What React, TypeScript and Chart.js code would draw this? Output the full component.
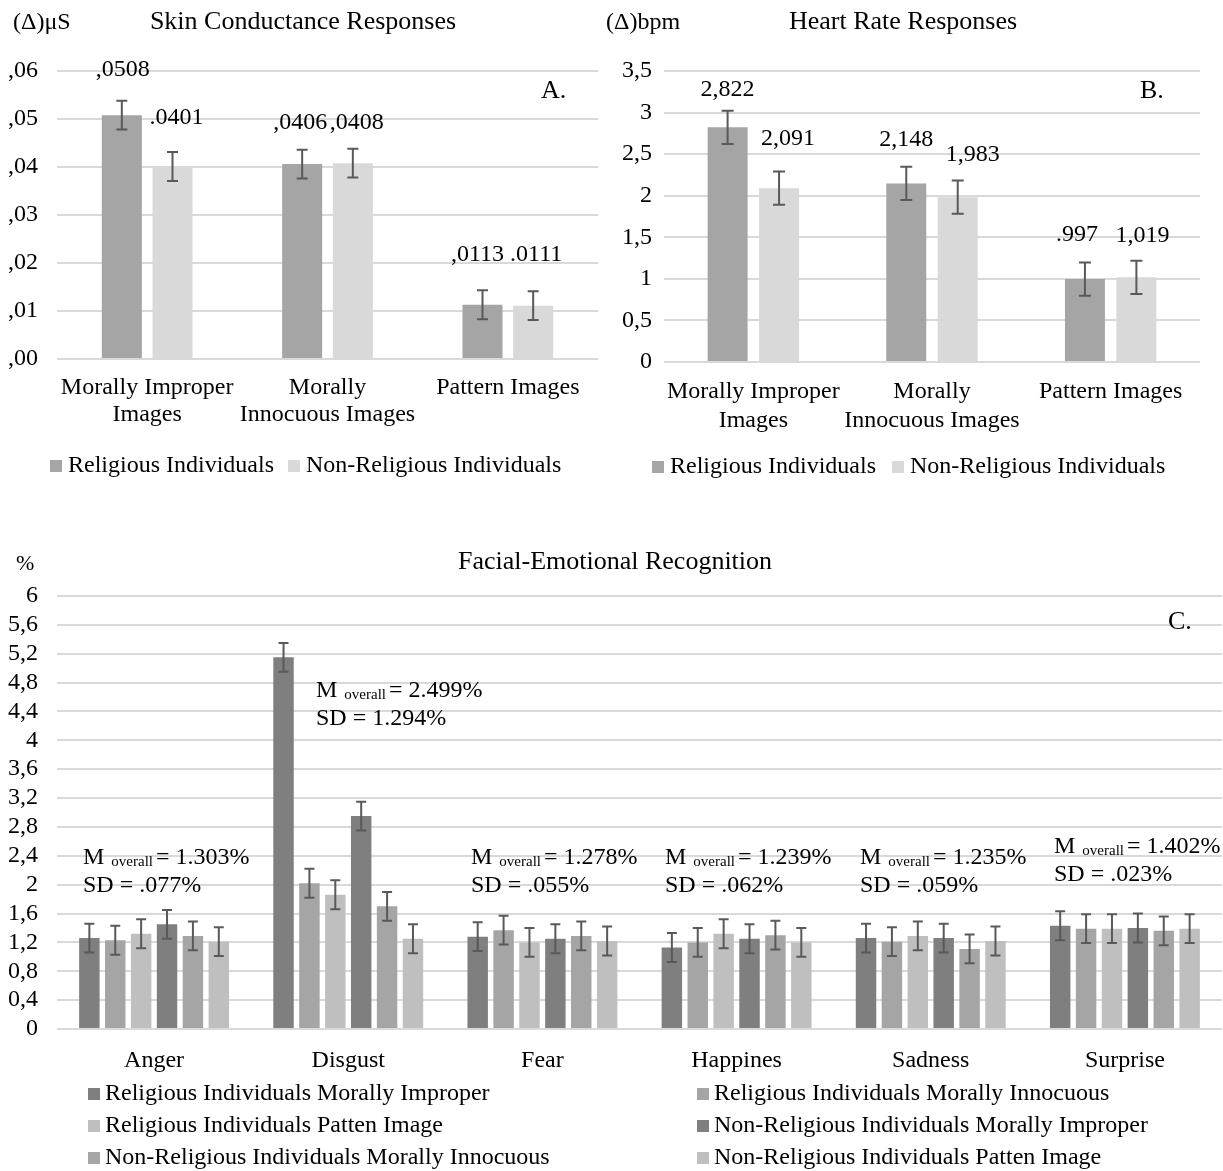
import React, { useEffect, useRef } from "react";
import { Chart, registerables } from "chart.js";

Chart.register(...registerables);

const FONT = '"Liberation Serif", "Times New Roman", Times, serif';

// ---------------- Panel A: Skin Conductance Responses ----------------
const aTitle = "Skin Conductance Responses";
const aUnit = "(Δ)μS";
const aTag = "A.";
const aCategories = [["Morally Improper", "Images"], ["Morally", "Innocuous Images"], "Pattern Images"];
const aSeries = ["Religious Individuals", "Non-Religious Individuals"];
const aReligious = [0.0508, 0.0406, 0.0113];
const aNonReligious = [0.0401, 0.0408, 0.0111];
const aReligiousErr = [0.003, 0.003, 0.003];
const aNonReligiousErr = [0.003, 0.003, 0.003];
const aReligiousLabels = [",0508", ",0406", ",0113"];
const aNonReligiousLabels = [".0401", ",0408", ".0111"];
const aTicks = [",00", ",01", ",02", ",03", ",04", ",05", ",06"];

// ---------------- Panel B: Heart Rate Responses ----------------
const bTitle = "Heart Rate Responses";
const bUnit = "(Δ)bpm";
const bTag = "B.";
const bCategories = [["Morally Improper", "Images"], ["Morally", "Innocuous Images"], "Pattern Images"];
const bSeries = ["Religious Individuals", "Non-Religious Individuals"];
const bReligious = [2.822, 2.148, 0.997];
const bNonReligious = [2.091, 1.983, 1.019];
const bReligiousErr = [0.2, 0.2, 0.2];
const bNonReligiousErr = [0.2, 0.2, 0.2];
const bReligiousLabels = ["2,822", "2,148", ".997"];
const bNonReligiousLabels = ["2,091", "1,983", "1,019"];
const bTicks = ["0", "0,5", "1", "1,5", "2", "2,5", "3", "3,5"];

// ---------------- Panel C: Facial-Emotional Recognition ----------------
const cTitle = "Facial-Emotional Recognition";
const cUnit = "%";
const cTag = "C.";
const cCategories = ["Anger", "Disgust", "Fear", "Happines", "Sadness", "Surprise"];
const cSeries = [
  "Religious Individuals Morally Improper",
  "Religious Individuals Morally Innocuous",
  "Religious Individuals Patten Image",
  "Non-Religious Individuals Morally Improper",
  "Non-Religious Individuals Morally Innocuous",
  "Non-Religious Individuals Patten Image",
];
const cRelImproper = [1.26, 5.15, 1.28, 1.13, 1.26, 1.43];
const cRelInnocuous = [1.23, 2.02, 1.37, 1.2, 1.21, 1.39];
const cRelPattern = [1.32, 1.86, 1.2, 1.32, 1.29, 1.39];
const cNonImproper = [1.45, 2.95, 1.25, 1.25, 1.26, 1.4];
const cNonInnocuous = [1.29, 1.7, 1.29, 1.3, 1.11, 1.36];
const cNonPattern = [1.21, 1.25, 1.22, 1.2, 1.22, 1.39];
const cRelImproperErr = [0.2, 0.2, 0.2, 0.2, 0.2, 0.2];
const cRelInnocuousErr = [0.2, 0.2, 0.2, 0.2, 0.2, 0.2];
const cRelPatternErr = [0.2, 0.2, 0.2, 0.2, 0.2, 0.2];
const cNonImproperErr = [0.2, 0.2, 0.2, 0.2, 0.2, 0.2];
const cNonInnocuousErr = [0.2, 0.2, 0.2, 0.2, 0.2, 0.2];
const cNonPatternErr = [0.2, 0.2, 0.2, 0.2, 0.2, 0.2];
const cMeans = ["1.303%", "2.499%", "1.278%", "1.239%", "1.235%", "1.402%"];
const cSDs = [".077%", "1.294%", ".055%", ".062%", ".059%", ".023%"];
const cTicks = ["0", "0,4", "0,8", "1,2", "1,6", "2", "2,4", "2,8", "3,2", "3,6", "4", "4,4", "4,8", "5,2", "5,6", "6"];

const DARK = "#7f7f7f";
const MID = "#a5a5a5";
const LIGHT = "#bfbfbf";
const PALE = "#d9d9d9";
const ERR = "#595959";

type TextItem = { text: string; x: number; y: number; size: number; align?: CanvasTextAlign };
type OverlayCfg = {
  texts: TextItem[];
  legend: { x: number; y: number }[];
  legendSize: number;
  boxSize: number;
  textGap: number;
  capWidth: number;
  labelOffset?: number;
  labelSize?: number;
  labelShift?: number[][][];
  annotations?: { x: number; y: number; mean: string; sd: string }[];
};

function makeOverlay(cfg: OverlayCfg) {
  return {
    id: "overlay",
    afterDatasetsDraw(chart: any) {
      const ctx = chart.ctx as CanvasRenderingContext2D;
      const ys = chart.scales.y;
      chart.data.datasets.forEach((ds: any, di: number) => {
        const meta = chart.getDatasetMeta(di);
        meta.data.forEach((bar: any, i: number) => {
          const v = ds.data[i];
          const e = ds.errors ? ds.errors[i] : 0;
          if (e) {
            const t = ys.getPixelForValue(v + e);
            const b = ys.getPixelForValue(v - e);
            const h = cfg.capWidth / 2;
            ctx.save();
            ctx.strokeStyle = ERR;
            ctx.lineWidth = 2;
            ctx.beginPath();
            ctx.moveTo(bar.x, t);
            ctx.lineTo(bar.x, b);
            ctx.moveTo(bar.x - h, t);
            ctx.lineTo(bar.x + h, t);
            ctx.moveTo(bar.x - h, b);
            ctx.lineTo(bar.x + h, b);
            ctx.stroke();
            ctx.restore();
          }
          if (ds.valueLabels) {
            const sh = cfg.labelShift && cfg.labelShift[di] ? cfg.labelShift[di][i] : [0, 0];
            ctx.save();
            ctx.font = `${cfg.labelSize}px ${FONT}`;
            ctx.fillStyle = "#000";
            ctx.textAlign = "center";
            ctx.textBaseline = "middle";
            ctx.fillText(ds.valueLabels[i], bar.x + sh[0], bar.y - (cfg.labelOffset || 0) + sh[1]);
            ctx.restore();
          }
        });
      });
    },
    afterDraw(chart: any) {
      const ctx = chart.ctx as CanvasRenderingContext2D;
      ctx.save();
      ctx.fillStyle = "#000";
      ctx.textBaseline = "alphabetic";
      cfg.texts.forEach((t) => {
        ctx.font = `${t.size}px ${FONT}`;
        ctx.textAlign = t.align || "left";
        ctx.fillText(t.text, t.x, t.y);
      });
      // legend
      chart.data.datasets.forEach((ds: any, di: number) => {
        const p = cfg.legend[di];
        if (!p) return;
        ctx.fillStyle = ds.backgroundColor;
        ctx.fillRect(p.x, p.y - cfg.boxSize / 2, cfg.boxSize, cfg.boxSize);
        ctx.fillStyle = "#000";
        ctx.font = `${cfg.legendSize}px ${FONT}`;
        ctx.textAlign = "left";
        ctx.textBaseline = "middle";
        ctx.fillText(ds.label, p.x + cfg.boxSize + cfg.textGap, p.y);
      });
      // annotations
      ctx.textBaseline = "alphabetic";
      ctx.textAlign = "left";
      ctx.fillStyle = "#000";
      (cfg.annotations || []).forEach((a) => {
        ctx.font = `24px ${FONT}`;
        ctx.fillText("M", a.x, a.y);
        let cx = a.x + ctx.measureText("M").width + 7;
        ctx.font = `15px ${FONT}`;
        ctx.fillText("overall", cx, a.y + 2);
        cx += ctx.measureText("overall").width + 3;
        ctx.font = `24px ${FONT}`;
        ctx.fillText("= " + a.mean, cx, a.y);
        ctx.fillText("SD = " + a.sd, a.x, a.y + 28);
      });
      ctx.restore();
    },
  };
}

function makeConfig(opts: {
  labels: any[];
  datasets: any[];
  max: number;
  step: number;
  tickLabels: string[];
  yWidth: number;
  xHeight: number;
  padTop: number;
  padRight: number;
  yPad: number;
  xPad: number;
  xLineHeight: number;
  overlay: OverlayCfg;
}) {
  return {
    type: "bar" as const,
    data: { labels: opts.labels, datasets: opts.datasets },
    options: {
      responsive: false,
      animation: false as const,
      devicePixelRatio: 1,
      layout: { padding: { top: opts.padTop, right: opts.padRight, left: 0, bottom: 0 } },
      plugins: { legend: { display: false }, title: { display: false }, tooltip: { enabled: false } },
      scales: {
        x: {
          grid: { display: false, drawTicks: false },
          border: { display: false },
          ticks: {
            color: "#000",
            font: { family: FONT, size: 24, lineHeight: opts.xLineHeight },
            padding: opts.xPad,
            maxRotation: 0,
            minRotation: 0,
            autoSkip: false,
          },
          afterFit: (s: any) => {
            s.height = opts.xHeight;
          },
        },
        y: {
          min: 0,
          max: opts.max,
          grid: { color: "#d9d9d9", lineWidth: 2, drawTicks: false },
          border: { display: false },
          ticks: {
            stepSize: opts.step,
            autoSkip: false,
            color: "#000",
            font: { family: FONT, size: 24 },
            padding: opts.yPad,
            callback: (v: any) => opts.tickLabels[Math.round(Number(v) / opts.step)] ?? "",
          },
          afterFit: (s: any) => {
            s.width = opts.yWidth;
          },
        },
      },
    },
    plugins: [makeOverlay(opts.overlay)],
  };
}

function ChartCanvas({ build, left, top, width, height }: { build: () => any; left: number; top: number; width: number; height: number }) {
  const ref = useRef<HTMLCanvasElement>(null);
  useEffect(() => {
    const chart = new Chart(ref.current as HTMLCanvasElement, build());
    return () => chart.destroy();
  }, []);
  return (
    <canvas
      ref={ref}
      width={width}
      height={height}
      style={{ position: "absolute", left, top, width, height, display: "block" }}
    />
  );
}

const buildA = () =>
  makeConfig({
    labels: aCategories,
    datasets: [
      { label: aSeries[0], data: aReligious, errors: aReligiousErr, valueLabels: aReligiousLabels, backgroundColor: MID, borderWidth: 0, categoryPercentage: 0.562, barPercentage: 0.79 },
      { label: aSeries[1], data: aNonReligious, errors: aNonReligiousErr, valueLabels: aNonReligiousLabels, backgroundColor: PALE, borderWidth: 0, categoryPercentage: 0.562, barPercentage: 0.79 },
    ],
    max: 0.06,
    step: 0.01,
    tickLabels: aTicks,
    yWidth: 57,
    xHeight: 131,
    padTop: 71,
    padRight: 2,
    yPad: 19,
    xPad: 16,
    xLineHeight: 1.1,
    overlay: {
      texts: [
        { text: aUnit, x: 13, y: 29, size: 24 },
        { text: aTitle, x: 303, y: 29, size: 26, align: "center" },
        { text: aTag, x: 541, y: 98, size: 26 },
      ],
      legend: [
        { x: 50, y: 466 },
        { x: 288, y: 466 },
      ],
      legendSize: 24,
      boxSize: 12,
      textGap: 6,
      capWidth: 11,
      labelOffset: 47,
      labelSize: 24,
      labelShift: [
        [[1, 2], [-2, 6], [-5, -3]],
        [[4, -2], [4, 7], [3, -4]],
      ],
    },
  });

const buildB = () =>
  makeConfig({
    labels: bCategories,
    datasets: [
      { label: bSeries[0], data: bReligious, errors: bReligiousErr, valueLabels: bReligiousLabels, backgroundColor: MID, borderWidth: 0, categoryPercentage: 0.576, barPercentage: 0.777 },
      { label: bSeries[1], data: bNonReligious, errors: bNonReligiousErr, valueLabels: bNonReligiousLabels, backgroundColor: PALE, borderWidth: 0, categoryPercentage: 0.576, barPercentage: 0.777 },
    ],
    max: 3.5,
    step: 0.5,
    tickLabels: bTicks,
    yWidth: 64,
    xHeight: 128,
    padTop: 71,
    padRight: 23,
    yPad: 12,
    xPad: 16,
    xLineHeight: 1.18,
    overlay: {
      texts: [
        { text: bUnit, x: 6, y: 29, size: 24 },
        { text: bTitle, x: 303, y: 29, size: 26, align: "center" },
        { text: bTag, x: 540, y: 98, size: 26 },
      ],
      legend: [
        { x: 52, y: 467 },
        { x: 292, y: 467 },
      ],
      legendSize: 24,
      boxSize: 12,
      textGap: 6,
      capWidth: 12,
      labelOffset: 44,
      labelSize: 24,
      labelShift: [
        [[0, 6], [0, 0], [-8, 0]],
        [[9, -5], [15, 2], [6, 2]],
      ],
    },
  });

const cPct = 0.8;
const cBar = 0.79;
const buildC = () =>
  makeConfig({
    labels: cCategories,
    datasets: [
      { label: cSeries[0], data: cRelImproper, errors: cRelImproperErr, backgroundColor: DARK, borderWidth: 0, categoryPercentage: cPct, barPercentage: cBar },
      { label: cSeries[1], data: cRelInnocuous, errors: cRelInnocuousErr, backgroundColor: MID, borderWidth: 0, categoryPercentage: cPct, barPercentage: cBar },
      { label: cSeries[2], data: cRelPattern, errors: cRelPatternErr, backgroundColor: LIGHT, borderWidth: 0, categoryPercentage: cPct, barPercentage: cBar },
      { label: cSeries[3], data: cNonImproper, errors: cNonImproperErr, backgroundColor: DARK, borderWidth: 0, categoryPercentage: cPct, barPercentage: cBar },
      { label: cSeries[4], data: cNonInnocuous, errors: cNonInnocuousErr, backgroundColor: MID, borderWidth: 0, categoryPercentage: cPct, barPercentage: cBar },
      { label: cSeries[5], data: cNonPattern, errors: cNonPatternErr, backgroundColor: LIGHT, borderWidth: 0, categoryPercentage: cPct, barPercentage: cBar },
    ],
    max: 6,
    step: 0.4,
    tickLabels: cTicks,
    yWidth: 57,
    xHeight: 142,
    padTop: 66,
    padRight: 1,
    yPad: 19,
    xPad: 19,
    xLineHeight: 1.1,
    overlay: {
      texts: [
        { text: cUnit, x: 16, y: 40, size: 22 },
        { text: cTitle, x: 615, y: 39, size: 26, align: "center" },
        { text: cTag, x: 1168, y: 99, size: 26 },
      ],
      legend: [
        { x: 88, y: 564 },
        { x: 697, y: 564 },
        { x: 88, y: 596 },
        { x: 697, y: 596 },
        { x: 88, y: 628 },
        { x: 697, y: 628 },
      ],
      legendSize: 24,
      boxSize: 12,
      textGap: 5,
      capWidth: 10,
      annotations: [
        { x: 83, y: 334, mean: cMeans[0], sd: cSDs[0] },
        { x: 316, y: 167, mean: cMeans[1], sd: cSDs[1] },
        { x: 471, y: 334, mean: cMeans[2], sd: cSDs[2] },
        { x: 665, y: 334, mean: cMeans[3], sd: cSDs[3] },
        { x: 860, y: 334, mean: cMeans[4], sd: cSDs[4] },
        { x: 1054, y: 323, mean: cMeans[5], sd: cSDs[5] },
      ],
    },
  });

export default function App() {
  useEffect(() => {
    document.body.style.margin = "0";
    document.body.style.background = "#fff";
  }, []);
  return (
    <div style={{ position: "absolute", left: 0, top: 0, width: 1223, height: 1171, background: "#fff", overflow: "hidden" }}>
      <ChartCanvas build={buildA} left={0} top={0} width={600} height={490} />
      <ChartCanvas build={buildB} left={600} top={0} width={623} height={490} />
      <ChartCanvas build={buildC} left={0} top={530} width={1223} height={641} />
    </div>
  );
}
